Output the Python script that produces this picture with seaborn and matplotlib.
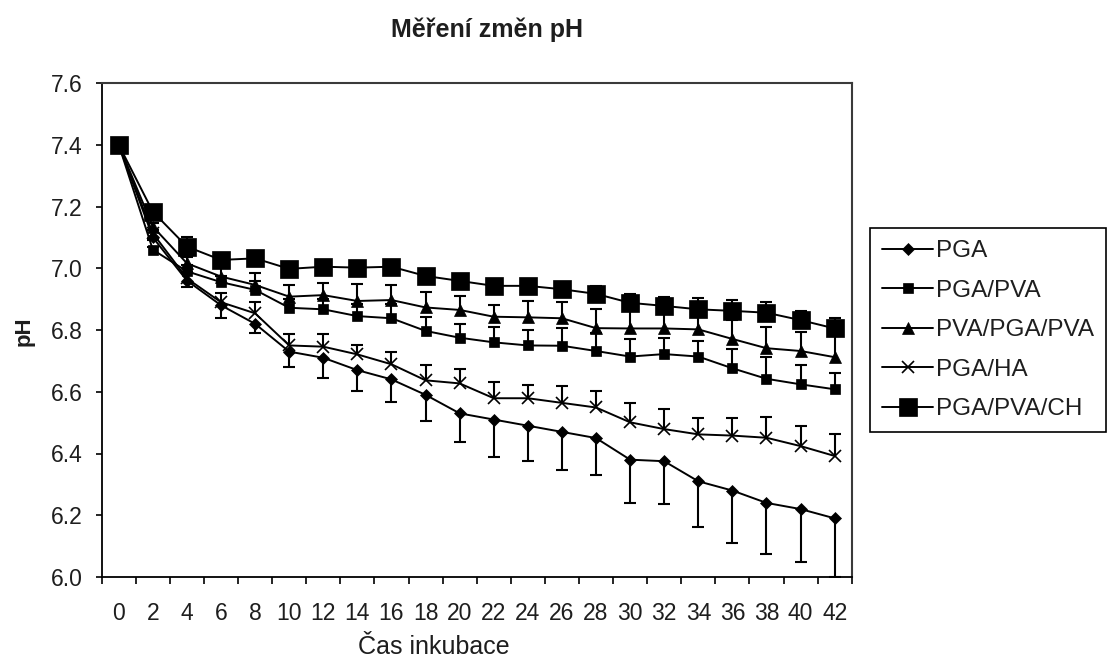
import matplotlib
matplotlib.use("Agg")
import matplotlib.pyplot as plt
import seaborn as sns
import numpy as np
import pandas as pd

# ---- data ----
days = [0, 2, 4, 6, 8, 10, 12, 14, 16, 18, 20, 22, 24, 26, 28, 30, 32, 34, 36, 38, 40, 42]

pga = [7.40, 7.10, 6.96, 6.88, 6.82, 6.73, 6.71, 6.67, 6.64, 6.59, 6.53, 6.51,
       6.49, 6.47, 6.45, 6.38, 6.375, 6.31, 6.28, 6.24, 6.22, 6.19]
pga_err = [0.0, 0.01, 0.02, 0.04, 0.03, 0.05, 0.065, 0.067, 0.073, 0.085, 0.093, 0.12,
           0.114, 0.124, 0.121, 0.139, 0.138, 0.149, 0.169, 0.166, 0.173, 0.19]

pga_pva = [7.40, 7.06, 6.99, 6.955, 6.93, 6.872, 6.867, 6.845, 6.838, 6.797, 6.775, 6.76,
           6.75, 6.749, 6.732, 6.714, 6.722, 6.714, 6.676, 6.642, 6.624, 6.608]
pga_pva_err = [0.0, 0.01, 0.02, 0.02, 0.03, 0.03, 0.035, 0.04, 0.045, 0.045, 0.043, 0.049,
               0.051, 0.056, 0.057, 0.056, 0.051, 0.051, 0.062, 0.07, 0.063, 0.054]

pva_pga_pva = [7.40, 7.135, 7.016, 6.973, 6.946, 6.908, 6.913, 6.894, 6.897, 6.873, 6.865, 6.843,
               6.841, 6.838, 6.806, 6.805, 6.805, 6.802, 6.771, 6.741, 6.732, 6.712]
pva_pga_pva_err = [0.0, 0.01, 0.02, 0.03, 0.038, 0.038, 0.038, 0.054, 0.049, 0.05, 0.045, 0.038,
                   0.053, 0.054, 0.061, 0.06, 0.06, 0.06, 0.06, 0.07, 0.063, 0.07]

pga_ha = [7.40, 7.113, 6.967, 6.89, 6.854, 6.75, 6.746, 6.721, 6.689, 6.637, 6.627, 6.579,
          6.579, 6.564, 6.549, 6.501, 6.479, 6.462, 6.458, 6.451, 6.424, 6.392]
pga_ha_err = [0.0, 0.01, 0.02, 0.03, 0.038, 0.036, 0.041, 0.03, 0.039, 0.049, 0.047, 0.054,
              0.043, 0.054, 0.055, 0.063, 0.064, 0.052, 0.056, 0.068, 0.066, 0.07]

pga_pva_ch = [7.40, 7.183, 7.07, 7.027, 7.032, 6.998, 7.005, 7.002, 7.005, 6.975, 6.959, 6.943,
              6.943, 6.932, 6.917, 6.888, 6.878, 6.867, 6.862, 6.856, 6.832, 6.805]
pga_pva_ch_err = [0.0, 0.01, 0.03, 0.02, 0.02, 0.02, 0.02, 0.02, 0.02, 0.02, 0.02, 0.02,
                  0.02, 0.02, 0.025, 0.03, 0.03, 0.038, 0.035, 0.036, 0.031, 0.033]

series_names = ["PGA", "PGA/PVA", "PVA/PGA/PVA", "PGA/HA", "PGA/PVA/CH"]
y_ticks = [6.0, 6.2, 6.4, 6.6, 6.8, 7.0, 7.2, 7.4, 7.6]

# ---- style ----
sns.set_style("white")
plt.rcParams['font.family'] = ['Liberation Sans', 'DejaVu Sans']
TXT = '#1e1e1e'

fig = plt.figure(figsize=(11.1, 6.61), dpi=100)
ax = fig.add_axes([101.7 / 1110, 1 - 577 / 661, 750 / 1110, 494 / 661])

styles = [
    (pga, pga_err, 'D', 6.0, 'minus'),
    (pga_pva, pga_pva_err, 's', 7.5, 'plus'),
    (pva_pga_pva, pva_pga_pva_err, '^', 8.5, 'plus'),
    (pga_ha, pga_ha_err, 'x', 8.0, 'plus'),
    (pga_pva_ch, pga_pva_ch_err, 's', 12.5, 'plus'),
]

pos = np.arange(len(days))
handles = []
for name, (vals, err, mk, ms, direction) in zip(series_names, styles):
    vals = np.asarray(vals)
    err = np.asarray(err)
    zeros = np.zeros_like(err)
    yerr = [err, zeros] if direction == 'minus' else [zeros, err]
    eb = ax.errorbar(pos, vals, yerr=yerr, fmt='none', ecolor='black',
                     elinewidth=1.5, capsize=4.6, capthick=1.5, zorder=2)
    caps = eb[1]
    if len(caps) == 2:
        (caps[1] if direction == 'minus' else caps[0]).set_visible(False)
    df = pd.DataFrame({'pos': pos, 'pH': vals})
    sns.lineplot(data=df, x='pos', y='pH', ax=ax, color='black', linewidth=1.4,
                 marker=mk, markersize=ms, markeredgecolor='black',
                 markerfacecolor='black', markeredgewidth=1.2 if mk == 'x' else 0.5,
                 legend=False, zorder=3)
    handles.append(ax.lines[-1])

# ---- axes ----
ax.set_xlim(-0.5, len(days) - 0.5)
ax.set_ylim(6.0, 7.6)
ax.set_xticks(pos)
ax.set_xticklabels([str(d) for d in days])
ax.set_xticks(np.arange(-0.5, len(days), 1.0), minor=True)
ax.set_yticks(y_ticks)
ax.set_yticklabels([f"{v:.1f}" for v in y_ticks])

ax.tick_params(axis='x', which='major', bottom=True, length=0, pad=18.0,
               labelsize=16.5, labelcolor=TXT)
ax.tick_params(axis='x', which='minor', bottom=True, length=5, width=1.2,
               direction='out', color='black')
ax.tick_params(axis='y', which='major', left=True, length=4.3, width=1.2,
               direction='out', pad=9.2, labelsize=16.5, labelcolor=TXT, color='black')

for side in ['left', 'bottom']:
    ax.spines[side].set_color('black')
    ax.spines[side].set_linewidth(1.3)
for side in ['top', 'right']:
    ax.spines[side].set_color('#3a3a3a')
    ax.spines[side].set_linewidth(1.5)
ax.grid(False)

ax.set_xlabel("Čas inkubace", fontsize=18, color=TXT)
ax.xaxis.label.set_va('baseline')
ax.xaxis.set_label_coords((434 - 101.7) / 750, (577 - 654) / 494)
ax.set_ylabel("pH", fontsize=16, fontweight='bold', color=TXT)
ax.yaxis.label.set_va('center')
ax.yaxis.set_label_coords((24 - 101.7) / 750, (577 - 331) / 494)

fig.text(487 / 1110, 1 - 37 / 661, "Měření změn pH", ha='center', va='baseline',
         fontsize=18, fontweight='bold', color=TXT)

leg = ax.legend(handles, series_names, loc='upper left',
                bbox_to_anchor=(870 / 1110, 1 - 228 / 661), bbox_transform=fig.transFigure,
                frameon=True, fancybox=False, edgecolor='black', framealpha=1,
                fontsize=17.5, handlelength=2.1, handletextpad=0.12, labelspacing=0.72,
                borderpad=0.5, borderaxespad=0)
leg.get_frame().set_linewidth(1.2)
for t in leg.get_texts():
    t.set_color(TXT)

fig.savefig("out.png", dpi=100, facecolor='white')
